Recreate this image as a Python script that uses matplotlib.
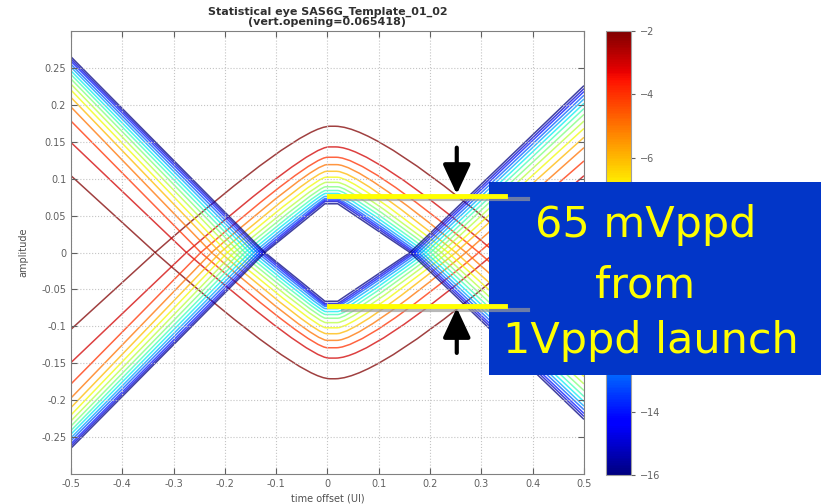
import numpy as np
import matplotlib
matplotlib.use('Agg')
import matplotlib.pyplot as plt
from matplotlib.path import Path
from matplotlib.patches import PathPatch, Rectangle
from matplotlib import cm, colors

# Niveles de contorno (log10 BER) de -2 a -16
levels = [-2, -3, -4, -5, -6, -7, -8, -9, -10, -11, -12, -13, -14, -15, -16]

# Curva superior de cada nivel (la inferior es su espejo)
edge_left = [0.104, 0.149, 0.178, 0.197, 0.210, 0.220, 0.228, 0.235, 0.241, 0.246, 0.251, 0.255, 0.259, 0.262, 0.265]
cross_left = [-0.336, -0.275, -0.247, -0.226, -0.209, -0.195, -0.182, -0.171, -0.161, -0.152, -0.144, -0.137, -0.131, -0.126, -0.122]
knee_left = [-0.056, -0.037, -0.032, -0.028, -0.024, -0.021, -0.019, -0.017, -0.015, -0.013, -0.011, -0.009, -0.007, -0.006, -0.005]
top_left = [0.005, 0.003, 0.0, -0.001, -0.002, -0.003, -0.003, -0.004, -0.004, -0.004, -0.005, -0.005, -0.005, -0.005, -0.005]
peak = [0.171, 0.143, 0.129, 0.119, 0.110, 0.102, 0.095, 0.089, 0.084, 0.080, 0.076, 0.073, 0.071, 0.069, 0.066]
top_right = [0.015, 0.016, 0.017, 0.018, 0.018, 0.019, 0.019, 0.020, 0.020, 0.020, 0.020, 0.020, 0.020, 0.020, 0.020]
knee_right = [0.101, 0.085, 0.073, 0.063, 0.056, 0.050, 0.046, 0.042, 0.038, 0.034, 0.031, 0.028, 0.025, 0.022, 0.020]
cross_right = [0.386, 0.327, 0.295, 0.270, 0.250, 0.235, 0.222, 0.211, 0.201, 0.192, 0.184, 0.177, 0.171, 0.166, 0.161]
edge_right = [0.066, 0.104, 0.124, 0.142, 0.156, 0.168, 0.178, 0.187, 0.195, 0.202, 0.208, 0.213, 0.218, 0.222, 0.226]

# Anotacion de apertura del ojo
eye_top = 0.077
eye_bot = -0.073
arrow_x = 0.252

fig = plt.figure(figsize=(8.21, 5.04), dpi=100)
ax = fig.add_axes([0.0865, 0.0595, 0.6248, 0.879])
cax = fig.add_axes([0.738, 0.0575, 0.0305, 0.881])

cmap = plt.get_cmap('jet')
norm = colors.Normalize(vmin=-16, vmax=-2)

codes = [Path.MOVETO, Path.LINETO, Path.CURVE3, Path.CURVE3, Path.LINETO,
         Path.CURVE3, Path.CURVE3, Path.LINETO]

for i, lev in enumerate(levels):
    verts = [(-0.5, -edge_left[i]), (cross_left[i], 0), (knee_left[i], peak[i]),
             (top_left[i], peak[i]), (top_right[i], peak[i]), (knee_right[i], peak[i]),
             (cross_right[i], 0), (0.5, -edge_right[i])]
    for sgn in (1, -1):
        v = [(x, sgn * y) for x, y in verts]
        ax.add_patch(PathPatch(Path(v, codes), fill=False, edgecolor=cmap(norm(lev)),
                               lw=1.1, alpha=0.75))

ax.set_xlim(-0.5, 0.5)
ax.set_ylim(-0.3, 0.3)
ax.set_xticks(np.arange(-0.5, 0.51, 0.1))
ax.set_yticks(np.arange(-0.25, 0.26, 0.05))
ax.set_xticklabels(['-0.5', '-0.4', '-0.3', '-0.2', '-0.1', '0', '0.1', '0.2', '0.3', '0.4', '0.5'])
ax.set_yticklabels(['-0.25', '-0.2', '-0.15', '-0.1', '-0.05', '0', '0.05', '0.1', '0.15', '0.2', '0.25'])
ax.grid(True, linestyle=':', color='#c4c4c4', lw=0.8)
ax.tick_params(direction='in', top=True, right=True, labelsize=7, colors='#606060', length=4)
for s in ax.spines.values():
    s.set_color('#808080')
ax.set_xlabel('time offset (UI)', fontsize=7, color='#505050', labelpad=3)
ax.set_ylabel('amplitude', fontsize=7, color='#505050', labelpad=9)
ax.set_title('Statistical eye SAS6G_Template_01_02\n(vert.opening=0.065418)',
             fontsize=8, fontweight='bold', color='#303030', pad=4, linespacing=1.0)

sm = cm.ScalarMappable(norm=norm, cmap=cmap)
cb = fig.colorbar(sm, cax=cax, ticks=list(range(-16, -1, 2)))
cb.outline.set_edgecolor('#a0a0a0')
cax.tick_params(labelsize=7, colors='#606060', length=3)

# Capa de anotaciones
over = fig.add_axes([0, 0, 1, 1], zorder=5)
over.axis('off')
over.set_xlim(0, 1)
over.set_ylim(0, 1)
over.add_patch(Rectangle((0.5956, 0.256), 0.4044, 0.383, facecolor='#0236c8',
                         edgecolor='none', zorder=1))
for y in (eye_top, eye_bot):
    over.plot([0.03, 0.39], [y - 0.005, y - 0.005], color='#9a9a9a', lw=3, alpha=0.7,
              transform=ax.transData, clip_on=False, zorder=2)
    over.plot([0.003, 0.346], [y, y], color='#ffff00', lw=3.5,
              transform=ax.transData, clip_on=False, zorder=3)
over.annotate('', xy=(arrow_x, eye_top + 0.002), xycoords=ax.transData,
              xytext=(arrow_x, 0.142), textcoords=ax.transData,
              arrowprops=dict(arrowstyle='-|>,head_length=0.9,head_width=0.42',
                              mutation_scale=20, lw=3, color='black',
                              shrinkA=0, shrinkB=0), zorder=4)
over.annotate('', xy=(arrow_x, eye_bot - 0.002), xycoords=ax.transData,
              xytext=(arrow_x, -0.136), textcoords=ax.transData,
              arrowprops=dict(arrowstyle='-|>,head_length=0.9,head_width=0.42',
                              mutation_scale=20, lw=3, color='black',
                              shrinkA=0, shrinkB=0), zorder=4)
over.text(0.786, 0.5298, '65 mVppd', fontsize=31, color='#ffff00', ha='center',
          va='baseline', zorder=5)
over.text(0.786, 0.4107, 'from', fontsize=31, color='#ffff00', ha='center',
          va='baseline', zorder=5)
over.text(0.793, 0.2996, '1Vppd launch', fontsize=31, color='#ffff00', ha='center',
          va='baseline', zorder=5)

fig.savefig('out.png', dpi=100)
